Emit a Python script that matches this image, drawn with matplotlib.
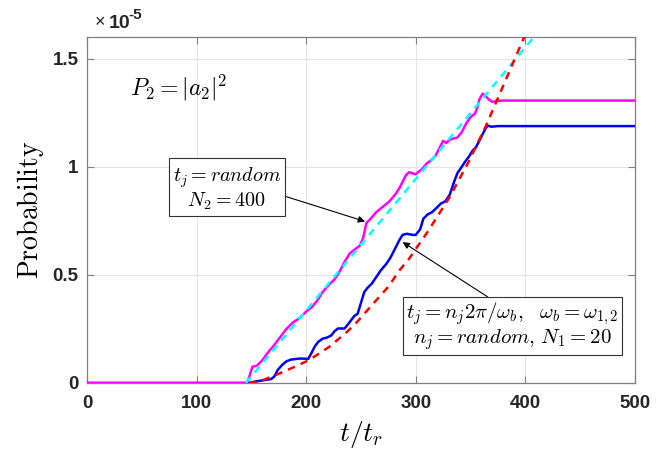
import numpy as np
import matplotlib.pyplot as plt

plt.rcParams['mathtext.fontset'] = 'cm'
plt.rcParams['font.family'] = ['Liberation Sans', 'DejaVu Sans']

# probability values are in units of 1e-5
# magenta: t_j random, N2 = 400
t_mag = [0, 145, 147, 150, 151, 155, 160, 165, 170, 176, 182, 188, 194, 200, 205, 210,
         215, 221, 226, 230, 235, 240, 245, 249, 252, 255, 258, 264, 270, 276, 281, 285,
         288, 291, 294, 297, 300, 302, 306, 310, 314, 318, 322, 325, 328, 331, 334, 338,
         342, 346, 350, 354, 356, 358, 361, 364, 367, 370, 375, 380, 500]
p_mag = [0, 0, 0.01, 0.06, 0.075, 0.08, 0.105, 0.14, 0.17, 0.21, 0.25, 0.28, 0.30, 0.33, 0.35, 0.38,
         0.42, 0.455, 0.48, 0.51, 0.56, 0.60, 0.62, 0.635, 0.67, 0.74, 0.755, 0.79, 0.815, 0.84, 0.87, 0.90,
         0.93, 0.96, 0.975, 0.97, 0.965, 0.975, 0.99, 1.015, 1.03, 1.05, 1.09, 1.12, 1.11, 1.125, 1.13, 1.135,
         1.16, 1.20, 1.23, 1.245, 1.27, 1.31, 1.338, 1.325, 1.31, 1.30, 1.305, 1.306, 1.306]

# blue: t_j = n_j 2pi/w_b, N1 = 20
t_blue = [0, 148, 152, 160, 168, 171, 174, 178, 182, 186, 194, 202, 205, 208, 211, 215,
          219, 223, 226, 229, 235, 238, 241, 244, 247, 250, 253, 256, 260, 264, 268, 273,
          277, 282, 285, 288, 292, 297, 300, 304, 307, 311, 315, 319, 323, 327, 331, 335,
          338, 342, 346, 349, 352, 355, 358, 361, 364, 366, 369, 375, 500]
p_blue = [0, 0, 0.005, 0.012, 0.018, 0.03, 0.06, 0.083, 0.10, 0.108, 0.113, 0.112, 0.14, 0.17, 0.19, 0.205,
          0.21, 0.22, 0.24, 0.252, 0.252, 0.27, 0.29, 0.31, 0.32, 0.37, 0.42, 0.44, 0.46, 0.49, 0.52, 0.55,
          0.58, 0.63, 0.66, 0.685, 0.69, 0.685, 0.685, 0.71, 0.76, 0.78, 0.79, 0.81, 0.83, 0.84, 0.87, 0.93,
          0.97, 1.0, 1.03, 1.05, 1.075, 1.09, 1.12, 1.15, 1.18, 1.19, 1.185, 1.188, 1.188]

# dashed reference curves
t_cyan = [145, 420]
p_cyan = [0, 1.674]
t_red = [148, 160, 176, 191, 203, 221, 237, 247, 260, 275, 285, 294, 311, 331, 348, 364, 374, 399, 405]
p_red = [0, 0.012, 0.045, 0.078, 0.107, 0.167, 0.235, 0.285, 0.36, 0.445, 0.52, 0.575, 0.70, 0.86,
         1.02, 1.188, 1.306, 1.60, 1.67]

fig = plt.figure(figsize=(6.69, 4.54), dpi=100)
ax = fig.add_axes([0.130, 0.1564, 0.819, 0.7621])

ax.plot(t_blue, p_blue, color='#0000ff', lw=1.8, zorder=3)
ax.plot(t_mag, p_mag, color='#ff00ff', lw=1.8, zorder=4)
ax.plot(t_cyan, p_cyan, color='#00ffff', lw=1.8, ls=(0, (3, 2.5)), zorder=5)
ax.plot(t_red, p_red, color='#ff0000', lw=1.8, ls=(0, (3, 2.5)), zorder=5)

ax.set_xlim(0, 500)
ax.set_ylim(0, 1.6)
ax.set_xticks([0, 100, 200, 300, 400, 500])
ax.set_yticks([0, 0.5, 1, 1.5])
ax.set_yticklabels(['0', '0.5', '1', '1.5'])
ax.grid(True, color='#e6e6e6', lw=0.8)
ax.set_axisbelow(True)
ax.tick_params(direction='in', length=5, width=0.8, colors='#808080',
               labelcolor='#262626', labelsize=13.5, top=True, right=True)
ax.tick_params(axis='x', pad=9)
ax.tick_params(axis='y', pad=6)
for lab in ax.get_xticklabels() + ax.get_yticklabels():
    lab.set_fontweight('bold')
for s in ax.spines.values():
    s.set_color('#808080')
    s.set_linewidth(0.9)

ax.set_xlabel(r'$t/t_r$', fontsize=20, labelpad=5)
ax.set_ylabel(r'$\mathrm{Probability}$', fontsize=20, labelpad=5)

# exponent label
ax.text(0.015, 1.029, '\u00d7', transform=ax.transAxes, fontsize=13, color='#262626', va='baseline')
ax.text(0.040, 1.026, '10', transform=ax.transAxes, fontsize=14, fontweight='bold', color='#262626', va='baseline')
ax.text(0.075, 1.052, '-5', transform=ax.transAxes, fontsize=11, fontweight='bold', color='#262626', va='baseline')

ax.text(39, 1.366, r'$P_2 = |a_2|^2$', fontsize=17, va='center', ha='left')

ax.annotate('$t_j = random$\n$N_2 = 400$', xy=(255, 0.745), xytext=(127.5, 0.90),
            fontsize=14.5, ha='center', va='center', multialignment='center', linespacing=1.05,
            bbox=dict(boxstyle='square,pad=0.2', fc='white', ec='#333333', lw=0.8),
            arrowprops=dict(arrowstyle='-|>', color='black', lw=0.8, relpos=(1.0, 0.36),
                            mutation_scale=10, shrinkA=0, shrinkB=1), zorder=6)

ax.annotate('$t_j = n_j 2\\pi/\\omega_b,\\ \\ \\omega_b = \\omega_{1,2}$\n$n_j = random,\\, N_1 = 20$',
            xy=(287, 0.655), xytext=(388, 0.263),
            fontsize=15, ha='center', va='center', multialignment='center', linespacing=1.0,
            bbox=dict(boxstyle='square,pad=0.15', fc='white', ec='#333333', lw=0.8),
            arrowprops=dict(arrowstyle='-|>', color='black', lw=0.8, relpos=(0.41, 1.0),
                            mutation_scale=10, shrinkA=0, shrinkB=1), zorder=6)

fig.savefig('out.png', dpi=100)
